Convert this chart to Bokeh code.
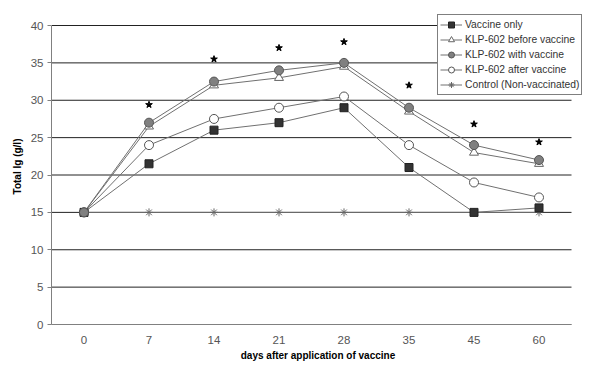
from bokeh.plotting import figure
from bokeh.embed import file_html
from bokeh.resources import INLINE
from bokeh.models import Legend, LegendItem, FixedTicker, Range1d

days = ["0", "7", "14", "21", "28", "35", "45", "60"]
vaccine_only = [15, 21.5, 26, 27, 29, 21, 15, 15.6]
klp_before = [15, 26.5, 32, 33, 34.5, 28.5, 23, 21.5]
klp_with = [15, 27, 32.5, 34, 35, 29, 24, 22]
klp_after = [15, 24, 27.5, 29, 30.5, 24, 19, 17]
control = [15, 15, 15, 15, 15, 15, 15, 15]
star_days = ["7", "14", "21", "28", "35", "45", "60"]
star_y = [29.4, 35.5, 37.0, 37.8, 32.0, 26.8, 24.4]
y_ticks = [0, 5, 10, 15, 20, 25, 30, 35, 40]

xi = list(range(len(days)))
star_xi = [days.index(d) for d in star_days]

FONT = "Liberation Sans"
LINE = "#707070"
PX_PER_Y = 299 / 40.0  # frame pixels per y unit (40 -> 0 spans 299 px)

p = figure(width=584, height=367,
           x_range=Range1d(-0.5, len(days) - 0.5 + 13 / 65),
           y_range=Range1d(0, 40 + 17 / PX_PER_Y),
           output_backend="svg", toolbar_location=None,
           min_border_left=51, min_border_right=0, min_border_top=8,
           min_border_bottom=43)
p.outline_line_color = None
p.background_fill_color = "white"
p.border_fill_color = "white"

# grid (drawn as segments so they stop at the last category boundary)
p.xgrid.grid_line_color = None
p.ygrid.grid_line_color = None
p.segment(x0=[-0.5] * len(y_ticks), x1=[len(days) - 0.5] * len(y_ticks),
          y0=y_ticks, y1=y_ticks, line_color="#222222", line_width=1)

p.yaxis.ticker = FixedTicker(ticks=y_ticks)
p.yaxis.bounds = (0, 40)
p.xaxis.ticker = FixedTicker(ticks=xi)
p.xaxis.major_label_overrides = {i: d for i, d in zip(xi, days)}
p.xaxis.bounds = (-0.5, len(days) - 0.5)

# axes
for ax in (p.xaxis, p.yaxis):
    ax.axis_line_color = "#808080"
    ax.major_label_text_font = FONT
    ax.major_label_text_font_size = "11.5px"
    ax.major_label_text_color = "#555555"
    ax.axis_label_text_font = FONT
    ax.axis_label_text_font_size = "10px"
    ax.axis_label_text_font_style = "bold"
    ax.axis_label_text_color = "#000000"
    ax.minor_tick_line_color = None
p.xaxis.major_tick_line_color = None
p.xaxis.major_tick_out = 0
p.xaxis.major_tick_in = 0
p.xaxis.major_label_standoff = 11
p.xaxis.axis_label = "days after application of vaccine"
p.xaxis.axis_label_standoff = 3
p.yaxis.axis_label = "Total Ig (g/l)"
p.yaxis.major_tick_line_color = "#808080"
p.yaxis.major_tick_out = 4
p.yaxis.major_tick_in = 0
p.yaxis.major_label_standoff = 4
p.yaxis.axis_label_standoff = 5

items = []

def series(ys, label, marker, size, fill, line_color):
    l = p.line(xi, ys, line_color=LINE, line_width=1)
    s = p.scatter(xi, ys, marker=marker, size=size, fill_color=fill,
                  line_color=line_color, line_width=1)
    items.append(LegendItem(label=label, renderers=[l, s]))

series(control, "Control (Non-vaccinated)", "asterisk", 8, None, "#666666")
series(klp_after, "KLP-602 after vaccine", "circle", 9, "white", "#555555")
series(vaccine_only, "Vaccine only", "square", 8, "#333333", "#222222")
series(klp_before, "KLP-602 before vaccine", "triangle", 9, "white", "#666666")
series(klp_with, "KLP-602 with vaccine", "circle", 9, "#808080", "#555555")

p.scatter(star_xi, star_y, marker="star", size=7, fill_color="black",
          line_color="black")

order = ["Vaccine only", "KLP-602 before vaccine", "KLP-602 with vaccine",
         "KLP-602 after vaccine", "Control (Non-vaccinated)"]
items_sorted = [next(i for i in items if i.label.value == o) for o in order]

legend = Legend(items=items_sorted, location=(386, 229))
legend.border_line_color = "black"
legend.border_line_width = 1
legend.background_fill_color = "white"
legend.background_fill_alpha = 1
legend.label_text_font = FONT
legend.label_text_font_size = "10.3px"
legend.label_text_color = "#333333"
legend.glyph_width = 22
legend.glyph_height = 15
legend.label_height = 15
legend.label_standoff = 3
legend.spacing = 0
legend.padding = 2
legend.margin = 0
p.add_layout(legend, "center")

open("out.html", "w").write(file_html(p, INLINE))
